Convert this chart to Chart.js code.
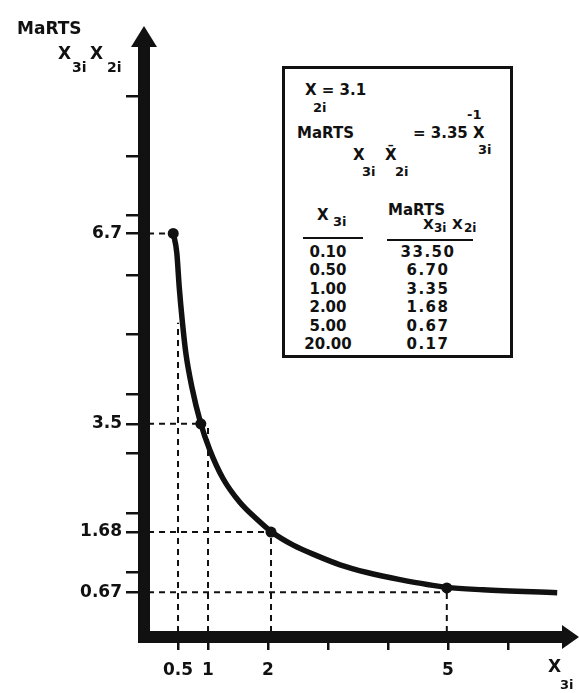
<!DOCTYPE html>
<html>
<head>
<meta charset="utf-8">
<script src="https://cdn.jsdelivr.net/npm/chart.js@4"></script>
<style>
  html, body { margin: 0; padding: 0; background: #fff; }
  #wrap { position: relative; width: 579px; height: 693px; overflow: hidden; }
  #myChart { position: absolute; left: 0; top: 0; }
  .t { position: absolute; font-family: 'DejaVu Sans', sans-serif; font-weight: bold; color: #111; line-height: 1; white-space: nowrap; }
  #box { position: absolute; left: 282px; top: 66px; width: 225px; height: 286px; border: 3px solid #111; background: #fff; }
  .rule { position: absolute; height: 2px; background: #111; }
</style>
</head>
<body>
<div id="wrap">
  <canvas id="myChart" width="579" height="693"></canvas>
  <div id="box"></div>
  <div id="labels"></div>
</div>
<script>
// hand-drawn curve
const curveX = [0.42, 0.48, 0.52, 0.57, 0.63, 0.73, 0.88, 1.03, 1.25, 1.53, 1.82, 2.05, 2.42, 2.82, 3.20, 3.65, 4.20, 4.98, 5.58, 6.82];
const curveY = [6.71, 6.37, 5.80, 5.24, 4.69, 4.12, 3.50, 3.06, 2.58, 2.18, 1.89, 1.69, 1.46, 1.28, 1.13, 1.00, 0.88, 0.75, 0.71, 0.66];

// marked points on the curve
const markX = [0.42, 0.88, 2.05, 4.98];
const markY = [6.7, 3.5, 1.68, 0.74];

// dashed guides
const hLevels = [6.7, 3.5, 1.68, 0.67];
const hEnds = [0.42, 0.88, 2.05, 4.98];
const vPositions = [0.5, 1, 2.05, 4.98];
const vTops = [5.2, 3.5, 1.68, 0.67];

// ticks
const xTickValues = [0.5, 1, 2, 3, 4, 5, 6];
const xTickLabels = [0.5, 1, 2, 5];
const yTickValues = [0.67, 1, 1.68, 2, 3, 3.5, 4, 5, 6, 6.7, 7, 8, 9];
const yTickLabels = [0.67, 1.68, 3.5, 6.7];

// inset table
const tableX = ['0.10', '0.50', '1.00', '2.00', '5.00', '20.00'];
const tableMarts = ['33.50', '6.70', '3.35', '1.68', '0.67', '0.17'];

const guides = [];
hLevels.forEach((lv, i) => {
  guides.push([{ x: 0, y: lv }, { x: hEnds[i], y: lv }]);
});
vPositions.forEach((p, i) => {
  guides.push([{ x: p, y: 0 }, { x: p, y: vTops[i] }]);
});

const datasets = guides.map(g => ({
  data: g,
  borderColor: '#111',
  borderWidth: 2,
  borderDash: [6, 5],
  pointRadius: 0,
  order: 3
}));

datasets.push({
  data: curveX.map((x, i) => ({ x: x, y: curveY[i] })),
  borderColor: '#111',
  borderWidth: 5.5,
  cubicInterpolationMode: 'monotone',
  pointRadius: 0,
  order: 2
});

datasets.push({
  data: markX.map((x, i) => ({ x: x, y: markY[i] })),
  showLine: false,
  pointRadius: 5.5,
  pointBackgroundColor: '#111',
  pointBorderWidth: 0,
  order: 1
});

const arrows = {
  id: 'arrows',
  afterDraw(chart) {
    const { ctx, chartArea: a } = chart;
    ctx.save();
    ctx.fillStyle = '#111';
    ctx.beginPath();
    ctx.moveTo(a.left, 26);
    ctx.lineTo(a.left - 13, a.top + 4);
    ctx.lineTo(a.left + 13, a.top + 4);
    ctx.closePath();
    ctx.fill();
    ctx.beginPath();
    ctx.moveTo(579, a.bottom);
    ctx.lineTo(a.right - 3, a.bottom - 12);
    ctx.lineTo(a.right - 3, a.bottom + 12);
    ctx.closePath();
    ctx.fill();
    ctx.restore();
  }
};

const tickFont = { family: "'DejaVu Sans', sans-serif", size: 17, weight: 'bold' };

const ctx = document.getElementById('myChart').getContext('2d');
const myChart = new Chart(ctx, {
  type: 'line',
  data: { datasets: datasets },
  options: {
    responsive: false,
    animation: false,
    devicePixelRatio: 1,
    layout: { padding: { top: 43, right: 14, left: 0, bottom: 0 } },
    plugins: {
      legend: { display: false },
      tooltip: { enabled: false }
    },
    scales: {
      x: {
        type: 'linear',
        min: -0.067,
        max: 6.95,
        afterFit: (s) => { s.height = 56; },
        afterBuildTicks: (s) => { s.ticks = xTickValues.map(v => ({ value: v })); },
        border: { display: true, width: 12, color: '#111' },
        grid: { drawOnChartArea: false, drawTicks: true, tickLength: 13, lineWidth: 2.5, color: '#111' },
        ticks: {
          autoSkip: false,
          maxRotation: 0,
          padding: 10,
          color: '#111',
          font: tickFont,
          callback: (v) => xTickLabels.includes(v) ? String(v) : ''
        }
      },
      y: {
        type: 'linear',
        min: -0.084,
        max: 9.9,
        afterFit: (s) => { s.width = 144; },
        afterBuildTicks: (s) => { s.ticks = yTickValues.map(v => ({ value: v })); },
        border: { display: true, width: 12, color: '#111' },
        grid: { drawOnChartArea: false, drawTicks: true, tickLength: 18, lineWidth: 2.5, color: '#111' },
        ticks: {
          autoSkip: false,
          padding: 4,
          color: '#111',
          font: tickFont,
          callback: (v) => yTickLabels.includes(v) ? String(v) : ''
        }
      }
    }
  },
  plugins: [arrows]
});

// text around the chart and inside the inset
const labels = document.getElementById('labels');
function put(txt, left, top, size, extra) {
  const d = document.createElement('div');
  d.className = 't';
  d.textContent = txt;
  d.style.left = left + 'px';
  d.style.top = top + 'px';
  d.style.fontSize = size + 'px';
  if (extra) Object.assign(d.style, extra);
  labels.appendChild(d);
  return d;
}
function rule(left, top, width) {
  const d = document.createElement('div');
  d.className = 'rule';
  d.style.left = left + 'px';
  d.style.top = top + 'px';
  d.style.width = width + 'px';
  labels.appendChild(d);
}

// y axis title
put('MaRTS', 17, 20, 17);
put('X', 58, 45, 17);
put('3i', 72, 60, 14);
put('X', 90, 45, 17);
put('2i', 107, 60, 14);

// x axis title
put('X', 548, 658, 17);
put('3i', 560, 678, 13);

// inset formula
put('X = 3.1', 305, 83, 15);
put('2i', 313, 101, 13);
put('MaRTS', 297, 126, 15);
put('= 3.35 X', 413, 126, 15);
put('-1', 467, 108, 13);
put('3i', 478, 143, 13);
put('X', 353, 148, 15);
put('3i', 362, 165, 13);
put('X\u0304', 385, 148, 15);
put('2i', 395, 165, 13);

// inset table header
put('X', 317, 208, 15);
put('3i', 333, 215, 13);
rule(303, 237, 60);
put('MaRTS', 388, 203, 15);
put('X', 423, 217, 14);
put('3i', 434, 222, 12);
put('X', 452, 217, 14);
put('2i', 464, 222, 12);
rule(387, 239, 86);

tableX.forEach((v, i) => {
  const top = 245 + i * 18.4;
  put(v, 288, top, 15, { width: '80px', textAlign: 'center' });
  put(tableMarts[i], 388, top, 15, { width: '80px', textAlign: 'center', letterSpacing: '1.5px' });
});
</script>
</body>
</html>
